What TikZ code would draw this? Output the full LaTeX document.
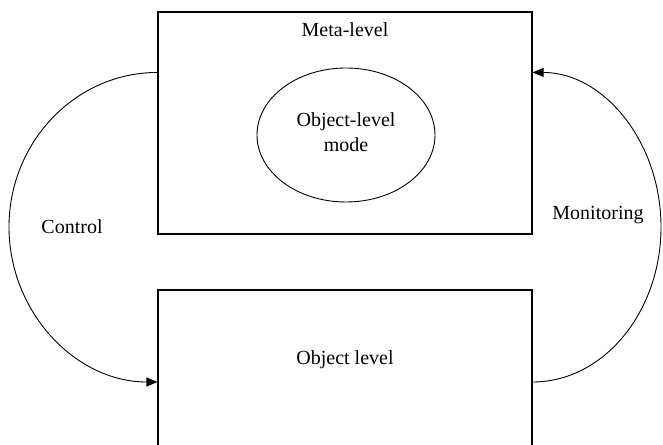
\documentclass[tikz,border=0pt]{standalone}
\usepackage{fontspec}
\setmainfont{Liberation Serif}
\usetikzlibrary{arrows.meta,calc,shapes.geometric}
\begin{document}
\begin{tikzpicture}[x=1pt,y=1pt,
  box/.style={draw, line width=1.1pt, minimum width=374pt, inner sep=0pt},
  lbl/.style={font=\fontsize{20}{25}\selectfont, align=center, inner sep=0pt},
  conn/.style={line width=0.9pt, -{Triangle[length=11pt,width=9pt]}}]
\useasboundingbox (0,0) rectangle (663,444);
\clip (0,0) rectangle (663,444);
\node[box, minimum height=222pt] (meta) at (345,321) {};
\node[box, minimum height=184pt] (obj) at (345,62) {};
\node[lbl] (metal) at (345,414) {Meta-level};
\node[draw, line width=0.9pt, ellipse, minimum width=178pt, minimum height=134pt, inner sep=0pt] (ell) at (346,309) {};
\node[lbl] (mode) at (346,312) {Object-level\\mode};
\node[lbl] (objl) at (345,84) {Object level};
\node[lbl] (ctrl) at (72,217) {Control};
\node[lbl] (mon) at (598,229) {Monitoring};
\coordinate (ms) at ($(meta.north west)+(0,-61)$);
\coordinate (me) at ($(meta.north east)+(0,-61)$);
\coordinate (lm) at (9,217);
\coordinate (rm) at (661,217);
\draw[conn] (ms) .. controls +(-82,0) and +(0,85) .. (lm)
  .. controls +(0,-85) and +(-82,0) .. (obj.west);
\draw[conn] (obj.east) .. controls +(71,0) and +(0,-85) .. (rm)
  .. controls +(0,85) and +(71,0) .. (me);
\end{tikzpicture}
\end{document}
